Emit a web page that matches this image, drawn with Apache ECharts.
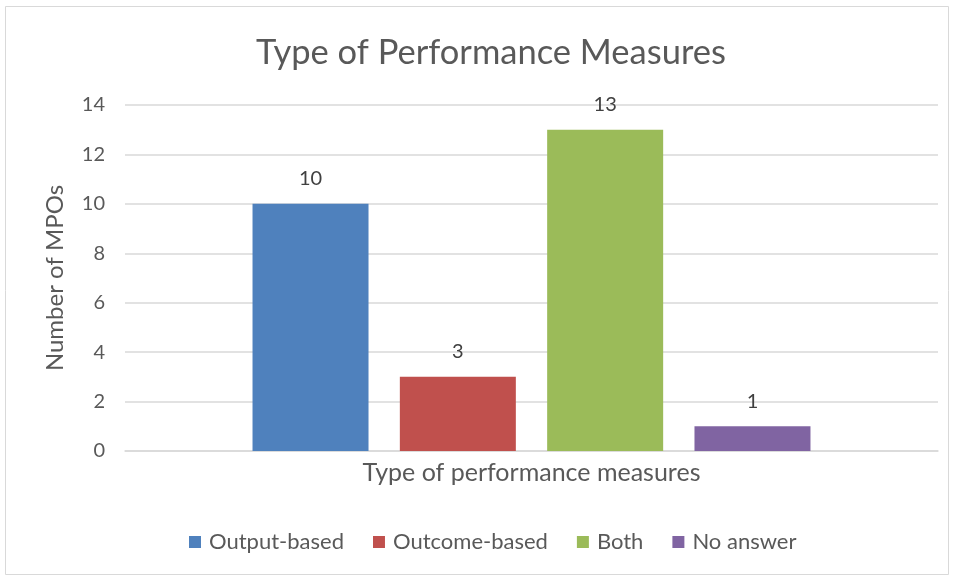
<!DOCTYPE html>
<html>
<head>
<meta charset="utf-8">
<script src="https://cdn.jsdelivr.net/npm/echarts@6/dist/echarts.min.js"></script>
<style>
  html, body { margin: 0; padding: 0; background: #fff; }
  #chart { width: 956px; height: 578px; }
</style>
</head>
<body>
<div id="chart"></div>
<script>
// data
var categories = ['']
var seriesNames = ['Output-based', 'Outcome-based', 'Both', 'No answer']
var seriesValues = [10, 3, 13, 1]
var seriesColors = ['#4F81BD', '#C0504D', '#9BBB59', '#8064A2']
var yTicks = [0, 2, 4, 6, 8, 10, 12, 14]

var font = 'Lato'
var chart = echarts.init(document.getElementById('chart'))

var series = seriesNames.map(function (name, i) {
  return {
    name: name,
    type: 'bar',
    data: [seriesValues[i]],
    barWidth: 116,
    barGap: '27%',
    itemStyle: { color: seriesColors[i] },
    label: {
      show: true,
      position: 'top',
      distance: 15,
      color: '#404040',
      fontFamily: font,
      fontSize: 20
    }
  }
})

var options = {
  backgroundColor: '#fff',
  animation: false,
  title: {
    text: 'Type of Performance Measures',
    left: 251,
    top: 30,
    textStyle: {
      fontFamily: font,
      fontWeight: 'normal',
      fontSize: 34.5,
      color: '#595959'
    }
  },
  legend: {
    bottom: 20,
    left: 184,
    itemWidth: 12,
    itemHeight: 12,
    itemGap: 29,
    icon: 'rect',
    textStyle: { fontFamily: font, fontSize: 22, color: '#595959', padding: [0, 0, 0, 3] },
    data: seriesNames
  },
  grid: {
    left: 125,
    right: 18,
    top: 105,
    bottom: 127
  },
  xAxis: {
    type: 'category',
    data: categories,
    name: 'Type of performance measures',
    nameLocation: 'middle',
    nameGap: 9,
    nameTextStyle: { fontFamily: font, fontSize: 25, color: '#595959', verticalAlign: 'top' },
    axisLine: { lineStyle: { color: '#d9d9d9', width: 1.5 } },
    axisTick: { show: false },
    axisLabel: { show: false }
  },
  yAxis: {
    type: 'value',
    min: yTicks[0],
    max: yTicks[yTicks.length - 1],
    interval: 2,
    name: 'Number of MPOs',
    nameLocation: 'middle',
    nameGap: 58,
    nameTextStyle: { fontFamily: font, fontSize: 24, color: '#595959' },
    axisLine: { show: false },
    axisTick: { show: false },
    axisLabel: { fontFamily: font, fontSize: 20, color: '#595959', margin: 20 },
    splitLine: { lineStyle: { color: '#d9d9d9', width: 1.5 } }
  },
  graphic: [{
    type: 'rect',
    shape: { x: 5.5, y: 6.5, width: 943, height: 568 },
    style: { fill: 'none', stroke: '#d9d9d9', lineWidth: 1 },
    silent: true,
    z: -1
  }],
  series: series
}

chart.setOption(options)
</script>
</body>
</html>
